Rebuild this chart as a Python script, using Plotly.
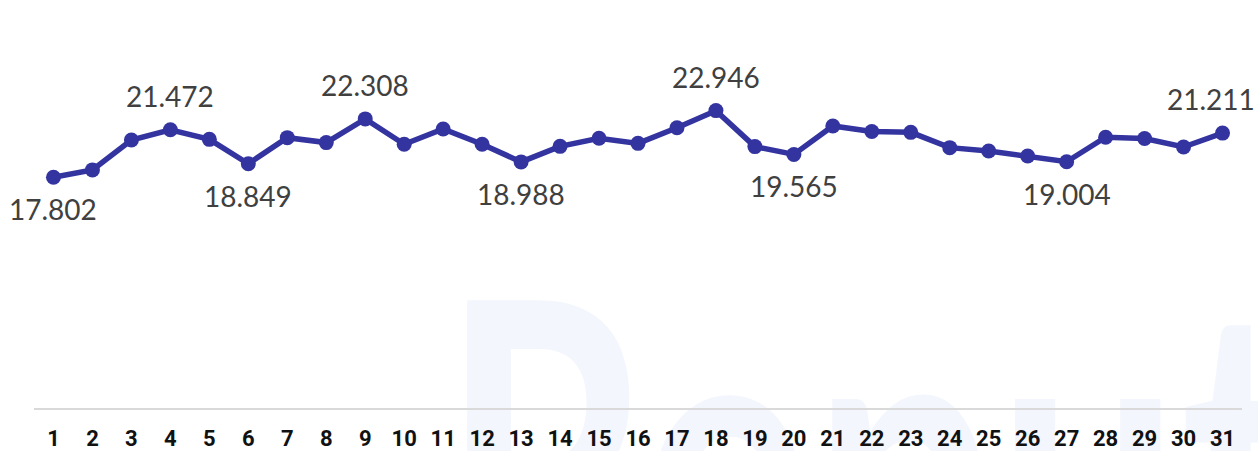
import base64
import plotly.graph_objects as go

days = list(range(1, 32))
values = [17.802, 18.37, 20.68, 21.472, 20.73, 18.849, 20.86, 20.48, 22.308, 20.35,
          21.53, 20.35, 18.988, 20.19, 20.81, 20.42, 21.63, 22.946, 20.17, 19.565,
          21.76, 21.33, 21.27, 20.09, 19.83, 19.45, 19.004, 20.89, 20.79, 20.14, 21.211]
# days that carry a value label, and whether the label sits above or below
label_days = [1, 4, 6, 9, 13, 18, 20, 27, 31]
label_above = [False, True, False, True, False, True, False, False, True]

line_color = "#3434a0"

fig = go.Figure()
fig.add_trace(go.Scatter(
    x=days, y=values, mode="lines+markers",
    line=dict(color=line_color, width=5.5),
    marker=dict(color=line_color, size=15),
    hoverinfo="x+y", showlegend=False,
))

for d, up in zip(label_days, label_above):
    v = values[d - 1]
    fig.add_annotation(
        x=d, y=v, text=f"{v:.3f}", showarrow=False,
        yshift=34 if up else -32, xshift=-12 if d == days[-1] else 0,
        font=dict(family="Lato, Carlito, sans-serif", size=28, color="#404040"),
    )

# faint watermark behind the chart
svg = (
    '<svg xmlns="http://www.w3.org/2000/svg" width="1258" height="451" viewBox="0 0 1258 451">'
    '<text x="441" y="640" font-family="Lato" font-weight="bold" font-size="470" '
    'fill="#f3f6fd" textLength="860" lengthAdjust="spacingAndGlyphs">Reput</text></svg>'
)
src = "data:image/svg+xml;base64," + base64.b64encode(svg.encode()).decode()

pl, pr, pt, pb = 34, 16, 84, 43
pw, ph = 1258 - pl - pr, 451 - pt - pb
fig.add_layout_image(
    source=src, xref="paper", yref="paper",
    x=-pl / pw, y=1 + pt / ph, sizex=1258 / pw, sizey=451 / ph,
    xanchor="left", yanchor="top", sizing="stretch", layer="below",
)

fig.update_layout(
    width=1258, height=451,
    margin=dict(l=pl, r=pr, t=pt, b=pb, autoexpand=False),
    paper_bgcolor="white", plot_bgcolor="rgba(0,0,0,0)",
)
fig.update_xaxes(
    range=[0.5, 31.5], tickmode="array", tickvals=days, ticktext=[str(d) for d in days],
    showgrid=False, zeroline=False, showline=True, linecolor="#d9d9d9", linewidth=2,
    ticks="", ticklabelstandoff=10, automargin=False,
    tickfont=dict(family="Roboto, sans-serif", size=22, color="#111111", weight="bold"),
)
fig.update_yaxes(range=[0, 25], visible=False, automargin=False)

fig.write_html("out.html", config={"displayModeBar": False},
               post_script="document.body.style.margin = '0';")
